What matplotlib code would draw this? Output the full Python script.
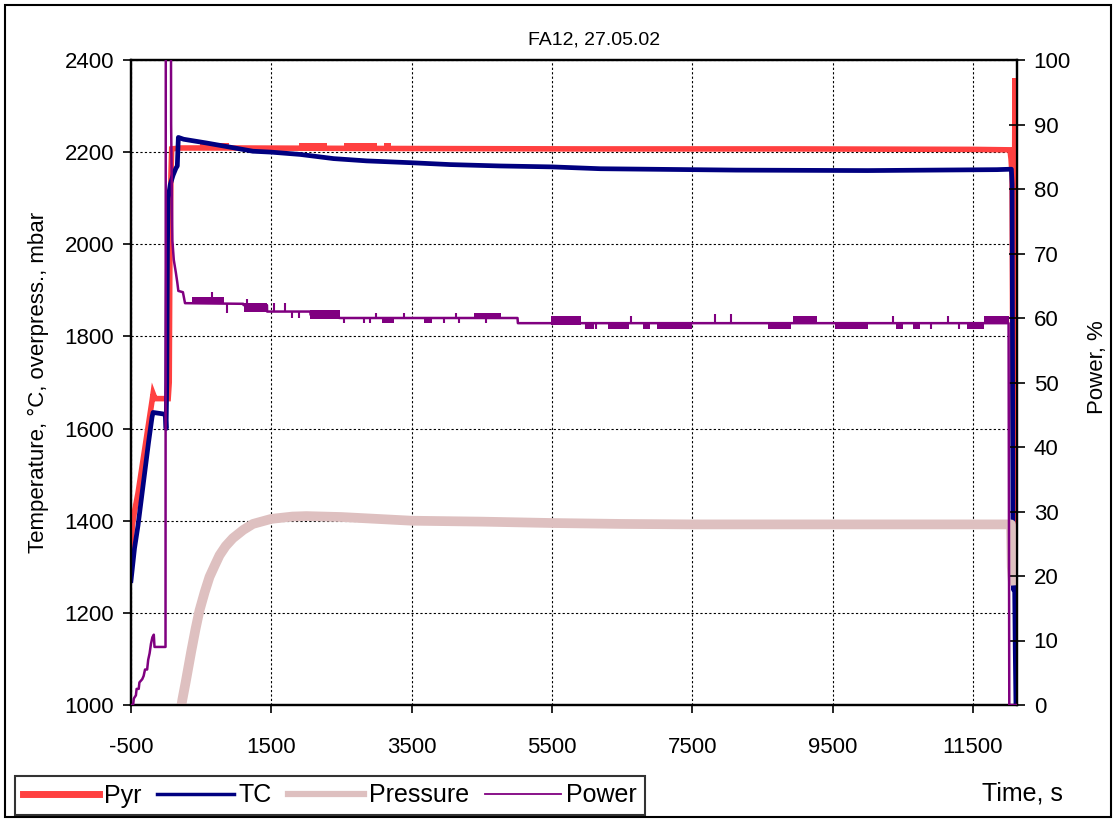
import matplotlib
matplotlib.use('Agg')
import matplotlib.pyplot as plt
from matplotlib.lines import Line2D
from matplotlib.patches import Rectangle
import numpy as np

plt.rcParams['font.family'] = ['Liberation Sans', 'DejaVu Sans']
plt.rcParams['axes.unicode_minus'] = False

# ---------------- data ----------------
title = "FA12, 27.05.02"
x_ticks = [-500, 1500, 3500, 5500, 7500, 9500, 11500]
left_ticks = [1000, 1200, 1400, 1600, 1800, 2000, 2200, 2400]
right_ticks = [0, 10, 20, 30, 40, 50, 60, 70, 80, 90, 100]

pyr_t = [-500, -480, -450, -400, -350, -300, -250, -200, -185, -170, -150, 30, 45, 55, 70, 80,
         200, 1000, 3000, 6000, 9000, 11500, 12030, 12045, 12060, 12070, 12085, 12100, 12115, 12125]
pyr_v = [1340, 1390, 1420, 1460, 1510, 1560, 1610, 1660, 1676, 1670, 1665, 1665, 1700, 2000, 2150, 2207,
         2209, 2209, 2208, 2207, 2207, 2206, 2205, 2185, 2150, 1700, 1500, 2360, 1400, 1230]
pyr_band_start = [480, 1900, 2530, 3100]
pyr_band_end = [900, 2300, 3010, 3200]

tc_t = [-500, -450, -400, -350, -300, -250, -200, -185, -50, -10, 0, 10, 20, 30, 60, 100, 140, 160, 175,
        250, 571, 905, 1238, 1500, 1914, 2386, 2860, 3500, 4050, 4760, 5500, 6190, 8130, 10000, 11843,
        12050, 12060, 12068, 12072, 12080, 12088, 12095, 12105, 12115, 12125]
tc_v = [1270, 1340, 1390, 1450, 1510, 1570, 1625, 1635, 1632, 1630, 1600, 1700, 2000, 2100, 2130, 2150, 2165, 2170, 2232,
        2228, 2220, 2211, 2202, 2200, 2195, 2186, 2181, 2177, 2173, 2170, 2168, 2164, 2161, 2160, 2162,
        2163, 2130, 1650, 1350, 1250, 1320, 1280, 1120, 1000, 950]

pres_t = [180, 230, 280, 357, 420, 476, 550, 619, 700, 762, 850, 952, 1100, 1238, 1500, 1800, 2000, 2500,
          3000, 3500, 4500, 5500, 6500, 7500, 9500, 11000, 12045, 12055, 12070]
pres_v = [960, 1010, 1050, 1115, 1165, 1205, 1245, 1278, 1305, 1325, 1345, 1362, 1380, 1393, 1404, 1409, 1410, 1408,
          1404, 1400, 1398, 1395, 1393, 1392, 1392, 1392, 1392, 1300, 1270]

power_t = [-500, -470, -460, -430, -420, -390, -380, -340, -320, -300, -270, -255, -235, -215, -195, -175, -165,
           -8, -3, 65, 72, 90, 110, 140, 160, 175, 240, 270, 1100, 1105, 1438, 1440, 2057, 2060, 2486,
           5010, 5015, 12010, 12020, 12130]
power_v = [0, 0, 1.0, 1.5, 2.5, 2.5, 3.5, 4.0, 4.5, 5.5, 5.5, 7.0, 8.0, 9.5, 10.5, 10.9, 9.0,
           9.0, 130, 130, 90, 72, 69, 67, 65.5, 64.2, 64.0, 62.3, 62.2, 62.0, 62.0, 61.0, 61.0, 60.5, 60.0,
           60.0, 59.2, 59.2, 0, 0]

power_band_start = [370, 1105, 2057, 3081, 3677, 4391, 5486, 6000, 6300, 6800, 7000, 8581, 8938, 9534,
                    10400, 10650, 11415, 11653]
power_band_end = [819, 1438, 2486, 3248, 3795, 4772, 5915, 6100, 6600, 6900, 7500, 8915, 9272, 10010,
                  10500, 10750, 11653, 12010]
power_band_lo = [62.1, 60.9, 59.8, 59.2, 59.2, 60.0, 58.9, 58.3, 58.3, 58.3, 58.3, 58.3, 59.2, 58.3,
                 58.3, 58.3, 58.3, 59.2]
power_band_hi = [63.2, 62.4, 61.2, 60.0, 60.0, 60.8, 60.3, 59.2, 59.2, 59.2, 59.2, 59.2, 60.3, 59.2,
                 59.2, 59.2, 59.2, 60.3]

power_spike_t = [653, 867, 1152, 1534, 1700, 1796, 1891, 2534, 2819, 2914, 2986, 3391, 3962, 4129, 4177,
                 4558, 5986, 6129, 6629, 7820, 8058, 9800, 10367, 10900, 11153, 11300]
power_spike_v = [64.0, 60.8, 62.9, 62.4, 62.4, 60.0, 60.0, 59.2, 59.2, 59.2, 60.8, 60.8, 59.2, 60.8, 59.2,
                 59.2, 58.3, 58.3, 60.3, 60.6, 60.6, 58.3, 60.3, 58.3, 60.3, 58.3]

# ---------------- styles ----------------
c_pyr = '#FF4040'
c_tc = '#000080'
c_pres = '#DEC0C0'
c_pow = '#800080'

fig = plt.figure(figsize=(11.16, 8.19), dpi=100)
L, R, T, B = 131, 1017, 60, 705
W, H = 1116, 819
ax = fig.add_axes([L / W, 1 - B / H, (R - L) / W, (B - T) / H])
ax2 = ax.twinx()

ax.set_xlim(-500, 12130)
ax.set_ylim(1000, 2400)
ax2.set_ylim(0, 100)

ax.plot(pyr_t, pyr_v, color=c_pyr, lw=4.0, solid_joinstyle='miter', zorder=3)
for s, e in zip(pyr_band_start, pyr_band_end):
    ax.fill_between([s, e], [2209, 2209], [2220, 2220], color=c_pyr, lw=0, zorder=3)
ax.plot(tc_t, tc_v, color=c_tc, lw=3.4, zorder=4)
ax.plot(pres_t, pres_v, color=c_pres, lw=7.0, zorder=5)

ax2.plot(power_t, power_v, color=c_pow, lw=1.8, zorder=6)
for s, e, lo, hi in zip(power_band_start, power_band_end, power_band_lo, power_band_hi):
    ax2.fill_between([s, e], [lo, lo], [hi, hi], color=c_pow, lw=0, zorder=6)
base = np.interp(power_spike_t, power_t, power_v)
ax2.vlines(power_spike_t, base, power_spike_v, color=c_pow, lw=1.5, zorder=6)

ax.set_xticks(x_ticks)
ax.set_yticks(left_ticks)
ax2.set_yticks(right_ticks)
ax.grid(True, color='black', linestyle=(0, (2, 2)), linewidth=0.8)
ax.set_axisbelow(True)

for a in (ax, ax2):
    for sp in a.spines.values():
        sp.set_linewidth(1.6)
        sp.set_color('black')

fs = 16
ax.tick_params(axis='x', direction='out', length=6, width=1.2, labelsize=fs, pad=17)
ax.tick_params(axis='y', direction='out', length=6, width=1.2, labelsize=fs, pad=6)
ax2.tick_params(axis='y', direction='inout', length=12, width=1.2, labelsize=fs, pad=6)

fig.text(594 / W, 1 - 40 / H, title, fontsize=14, ha='center', va='center')
ax.set_ylabel("Temperature, \u00b0C, overpress., mbar", fontsize=fs)
ax.yaxis.set_label_coords(-0.092, 0.5)
ax2.set_ylabel("Power, %", fontsize=fs)
ax2.yaxis.set_label_coords(1.079, 0.524)

fig.text(1022 / W, 1 - 793 / H, "Time, s", fontsize=18, ha='center', va='center')

handles = [Line2D([], [], color=c_pyr, lw=5.0),
           Line2D([], [], color=c_tc, lw=2.5),
           Line2D([], [], color=c_pres, lw=4.5),
           Line2D([], [], color=c_pow, lw=1.3)]
leg = fig.legend(handles, ["Pyr", "TC", "Pressure", "Power"], loc='lower left',
                 bbox_to_anchor=(15 / W, 4 / H), ncol=4, frameon=True, fancybox=False,
                 edgecolor='black', handlelength=3.05, handletextpad=0.2, columnspacing=0.64,
                 borderpad=0.3, fontsize=18, borderaxespad=0)
leg.get_frame().set_linewidth(1.5)

fig.add_artist(Rectangle((5 / W, 2 / H), (1111 - 5) / W, (814 - 2) / H, transform=fig.transFigure,
                         fill=False, lw=1.5, ec='black'))

fig.savefig('out.png', dpi=100)
